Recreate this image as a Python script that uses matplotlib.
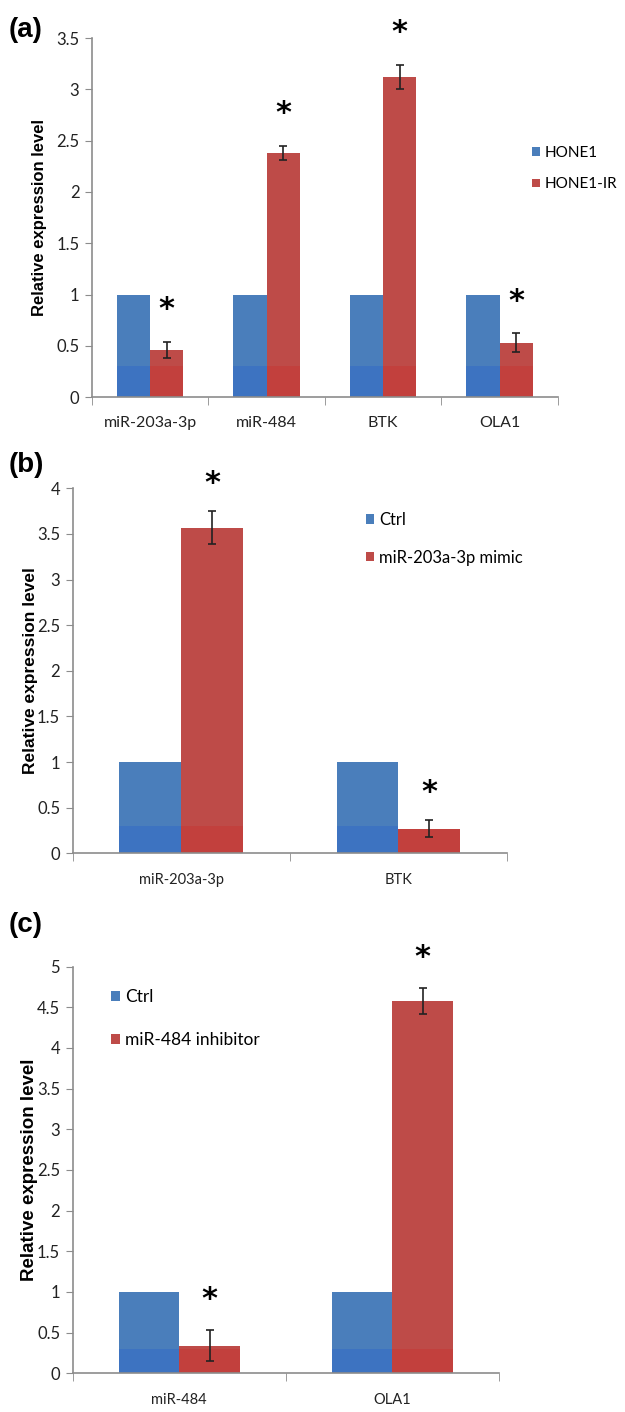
import numpy as np
import matplotlib
matplotlib.use("Agg")
import matplotlib.pyplot as plt

# panel (a)
a_cats = ["miR-203a-3p", "miR-484", "BTK", "OLA1"]
a_ctrl = [1.0, 1.0, 1.0, 1.0]
a_test = [0.46, 2.38, 3.12, 0.53]
a_err = [0.08, 0.07, 0.12, 0.09]
a_names = ["HONE1", "HONE1-IR"]

# panel (b)
b_cats = ["miR-203a-3p", "BTK"]
b_ctrl = [1.0, 1.0]
b_test = [3.57, 0.27]
b_err = [0.18, 0.095]
b_names = ["Ctrl", "miR-203a-3p mimic"]

# panel (c)
c_cats = ["miR-484", "OLA1"]
c_ctrl = [1.0, 1.0]
c_test = [0.34, 4.58]
c_err = [0.19, 0.16]
c_names = ["Ctrl", "miR-484 inhibitor"]

blue = "#4a7ebb"
blue_lo = "#3d73c1"
red = "#be4b48"
red_lo = "#c2403d"
axis_col = "#8c8c8c"
tick_font = "Lato"

fig = plt.figure(figsize=(6.25, 14.12), dpi=100)


def panel(rect, cats, ctrl, test, err, names, ymax, ystep, leg_xy, leg_space,
          xfs, yfs, leg_fs, lab_fs, star_off, lab_x):
    ax = fig.add_axes(rect)
    x = np.arange(len(cats))
    w = 0.285
    ctrl = np.array(ctrl)
    test = np.array(test)
    band = 0.3
    b1 = ax.bar(x - w / 2, ctrl, w, color=blue, linewidth=0)
    b2 = ax.bar(x + w / 2, test, w, color=red, linewidth=0)
    # slightly brighter lower band (gradient look of the original)
    ax.bar(x - w / 2, np.minimum(ctrl, band), w, color=blue_lo, linewidth=0)
    ax.bar(x + w / 2, np.minimum(test, band), w, color=red_lo, linewidth=0)
    ax.errorbar(x + w / 2, test, yerr=err, fmt="none", ecolor="#222222",
                elinewidth=1.2, capsize=3, capthick=1.2)
    for xi, v, e in zip(x + w / 2, test, err):
        ax.annotate("*", xy=(xi, v + e), xytext=(0, star_off),
                    textcoords="offset points", ha="center", va="center",
                    fontsize=22, fontweight="bold", annotation_clip=False)

    ax.set_xlim(-0.5, len(cats) - 0.5)
    ax.set_ylim(0, ymax)
    yt = np.arange(0, ymax + 1e-9, ystep)
    ax.set_yticks(yt)
    ax.set_yticklabels([f"{t:g}" for t in yt], fontsize=yfs, family=tick_font,
                       color="#222222")
    ax.set_xticks(x)
    ax.set_xticklabels(cats, fontsize=xfs, family=tick_font, color="#222222")
    ax.set_xticks(np.arange(-0.5, len(cats)), minor=True)
    ax.tick_params(axis="x", which="major", length=0, pad=14)
    ax.tick_params(axis="x", which="minor", length=6, color=axis_col, direction="out")
    ax.tick_params(axis="y", length=5, color=axis_col, pad=4)
    for s in ["top", "right"]:
        ax.spines[s].set_visible(False)
    for s in ["left", "bottom"]:
        ax.spines[s].set_color(axis_col)
        ax.spines[s].set_linewidth(1.2)
    ax.set_ylabel("Relative expression level", fontsize=lab_fs, fontweight="bold",
                  family="Liberation Sans")
    ax.yaxis.set_label_coords(lab_x, 0.5)

    ax.legend([b1, b2], names, loc="upper left", bbox_to_anchor=leg_xy,
              frameon=False, borderaxespad=0, borderpad=0,
              handlelength=0.5, handleheight=0.5, handletextpad=0.3,
              labelspacing=leg_space, prop={"family": tick_font, "size": leg_fs})
    return ax


panel([0.147, 0.7188, 0.7456, 0.2542], a_cats, a_ctrl, a_test, a_err, a_names,
      3.5, 0.5, (0.945, 0.70), 1.15, 11.5, 12, 11, 12, 23, -0.097)
panel([0.1163, 0.3957, 0.695, 0.2585], b_cats, b_ctrl, b_test, b_err, b_names,
      4.0, 0.5, (0.675, 0.935), 1.3, 10.5, 12, 12, 12.5, 20, -0.08)
panel([0.1163, 0.0274, 0.682, 0.288], c_cats, c_ctrl, c_test, c_err, c_names,
      5.0, 0.5, (0.09, 0.945), 1.55, 10.5, 12, 12.5, 13.5, 22, -0.082)

for lab, y in [("(a)", 30), ("(b)", 465), ("(c)", 925)]:
    fig.text(9 / 625, 1 - y / 1412, lab, fontsize=20, fontweight="bold",
             family="Liberation Sans", va="center", ha="left")

fig.savefig("out.png", dpi=100)
